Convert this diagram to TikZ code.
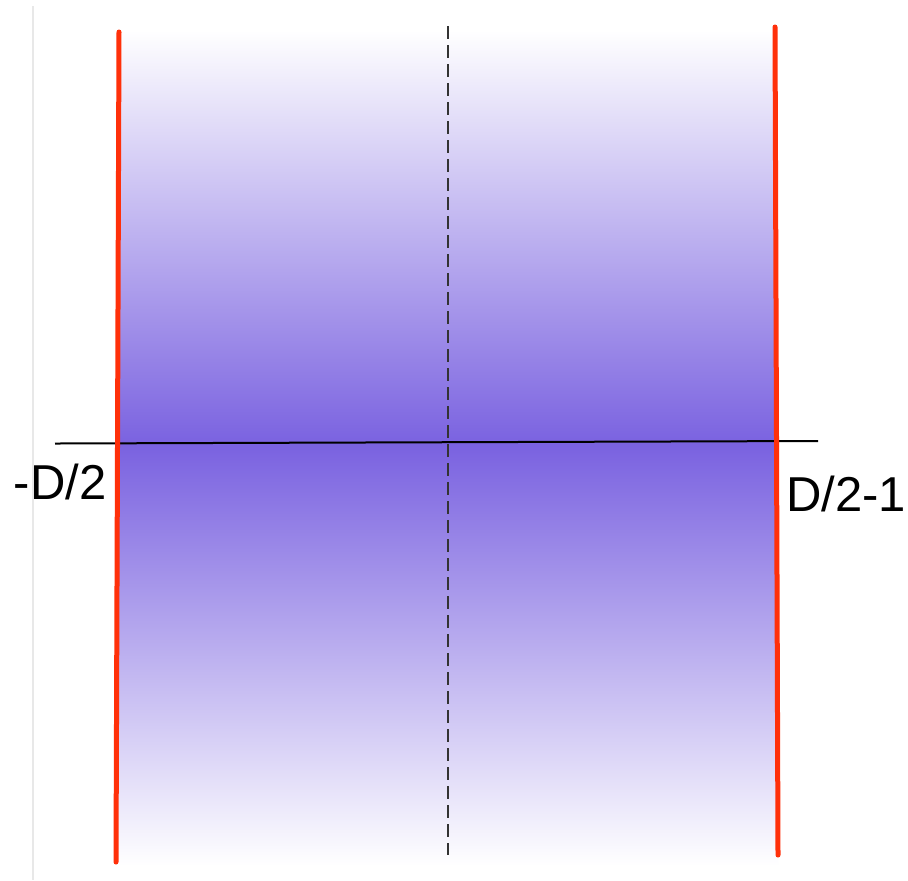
\documentclass[tikz,border=0pt]{standalone}
\usepackage{fontspec}
\setmainfont{Liberation Sans}
\usetikzlibrary{positioning}

\definecolor{wellpurple}{RGB}{122,98,224}
\definecolor{wallred}{RGB}{255,48,10}
\definecolor{edgegray}{RGB}{232,232,232}

\begin{document}
\begin{tikzpicture}[
  x=0.5pt, y=-0.5pt,
  wall/.style={line width=2.5pt, wallred, line cap=round},
  axis/.style={line width=1pt, black},
  midline/.style={line width=0.75pt, black!80, dash pattern=on 6.5pt off 3pt},
  endlabel/.style={inner sep=0pt, font=\fontsize{24.5}{28}\selectfont}
]
\useasboundingbox (0,0) rectangle (908,880);
\fill[white] (0,0) rectangle (908,880);
\draw[edgegray, line width=0.8pt] (33,6) -- (33,880);

% the shaded well
\shade[top color=white, bottom color=wellpurple] (118,30) rectangle (777,444.5);
\shade[top color=wellpurple, bottom color=white] (117,445.5) rectangle (778,866);

% walls, axis and midline
\coordinate (lt) at (119,32);
\coordinate (lb) at (116,862);
\coordinate (rt) at (775,27);
\coordinate (rb) at (778,855);
\coordinate (al) at (55,443.5);
\coordinate (ar) at (818,441);
\coordinate (mt) at (448,26);
\coordinate (mb) at (448,855);

\draw[midline] (mt) -- (mb);
\draw[axis] (al) -- (ar);
\draw[wall] (lt) -- (lb);
\draw[wall] (rt) -- (rb);

\node[endlabel] (lo) at (60,482) {-D/2};
\node[endlabel] (hi) at (846,494) {D/2-1};
\end{tikzpicture}
\end{document}
